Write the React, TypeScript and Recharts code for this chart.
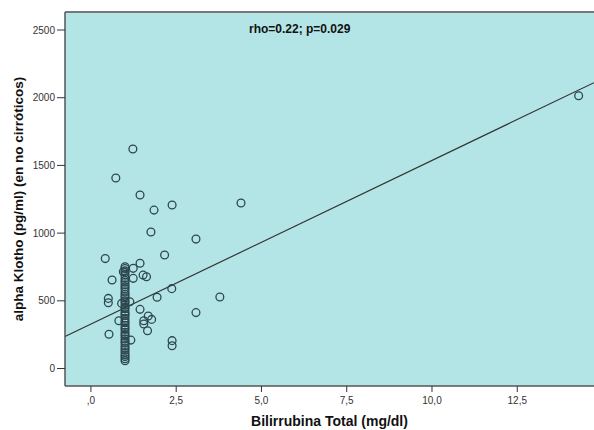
import { ScatterChart, Scatter, XAxis, YAxis, CartesianGrid, ReferenceLine, Label } from 'recharts'

// Bilirrubina total (mg/dl) vs alpha Klotho (pg/ml), pacientes no cirróticos
const bilirrubina = [
  14.3, 1.23, 0.73, 1.44, 2.38, 4.4, 1.85, 1.76, 3.08, 2.16, 0.42,
  0.95, 1.24, 1.44, 1.53, 1.63, 1.24, 0.62, 2.37, 1.94, 3.78, 0.51, 0.51,
  0.9, 1.14, 1.44, 0.82, 1.68, 1.78, 1.55, 1.55, 1.66, 0.53, 1.17, 3.08,
  2.38, 2.38,
]
const klotho = [
  2015, 1621, 1407, 1281, 1208, 1222, 1170, 1008, 956, 838, 812,
  715, 740, 777, 690, 678, 666, 654, 590, 526, 528, 518, 486,
  481, 493, 437, 353, 388, 363, 353, 329, 279, 253, 210, 413,
  206, 168,
]
// columna densa en bilirrubina = 1,0
const columnaKlotho = [
  752, 738, 721, 709, 690, 668, 651, 637, 618, 603, 588, 566, 549, 533,
  520, 501, 487, 470, 452, 441, 420, 404, 392, 371, 352, 338, 319, 301,
  289, 268, 251, 238, 219, 201, 188, 169, 152, 137, 118, 101, 88, 72, 58,
]

const xTicks = [0, 2.5, 5, 7.5, 10, 12.5]
const yTicks = [0, 500, 1000, 1500, 2000, 2500]
const xDomain = [-0.76, 14.75]
const yDomain = [-129, 2633]
// recta de ajuste (extremos)
const ajuste = [
  { x: -0.76, y: 236 },
  { x: 14.75, y: 2111 },
]

const puntos = [
  ...bilirrubina.map((b, i) => ({ x: b, y: klotho[i] })),
  ...columnaKlotho.map((k) => ({ x: 1.0, y: k })),
]

const fmtX = (v: number) => {
  const s = v.toFixed(1).replace('.', ',')
  return s.startsWith('0') ? s.slice(1) : s
}

const font = '"Liberation Sans", Arial, sans-serif'

const Circulo = (props: any) => (
  <circle cx={props.cx} cy={props.cy} r={3.9} fill="none" stroke="#2c474d" strokeWidth={1.3} />
)

export default function App() {
  return (
    <div style={{ position: 'absolute', left: 0, top: 0, width: 594, height: 430, background: '#fff', fontFamily: font }}>
      <ScatterChart width={594} height={430} margin={{ top: 12, right: 0, left: 0, bottom: 0 }} style={{ fontFamily: font }}>
        <CartesianGrid horizontal={false} vertical={false} fill="#b4e5e6" />
        <XAxis
          type="number"
          dataKey="x"
          domain={xDomain}
          ticks={xTicks}
          tickFormatter={fmtX}
          allowDataOverflow
          height={44}
          tick={{ fontSize: 10, fill: '#333', dy: 3 }}
          tickLine={{ stroke: '#333' }}
          tickSize={6}
          axisLine={{ stroke: '#555', strokeWidth: 1.5 }}
        >
          <Label
            value="Bilirrubina Total (mg/dl)"
            position="insideBottom"
            offset={4}
            style={{ fontSize: 14, fontWeight: 'bold', fill: '#111' }}
          />
        </XAxis>
        <YAxis
          type="number"
          dataKey="y"
          domain={yDomain}
          ticks={yTicks}
          allowDataOverflow
          width={65}
          tick={{ fontSize: 10, fill: '#333' }}
          tickLine={{ stroke: '#333' }}
          tickSize={8}
          axisLine={{ stroke: '#555', strokeWidth: 1.5 }}
        >
          <Label
            value="alpha Klotho (pg/ml) (en no cirróticos)"
            angle={-90}
            position="insideLeft"
            offset={18}
            style={{ fontSize: 13.5, fontWeight: 'bold', fill: '#111', textAnchor: 'middle' }}
          />
        </YAxis>
        <ReferenceLine y={yDomain[1]} stroke="#777" strokeWidth={2} />
        <ReferenceLine segment={ajuste} stroke="#333" strokeWidth={1.2} />
        <Scatter data={puntos} shape={Circulo} isAnimationActive={false} />
      </ScatterChart>
      <div style={{ position: 'absolute', left: 249, top: 22, fontSize: 12, fontWeight: 'bold', color: '#111' }}>
        rho=0.22; p=0.029
      </div>
    </div>
  )
}
